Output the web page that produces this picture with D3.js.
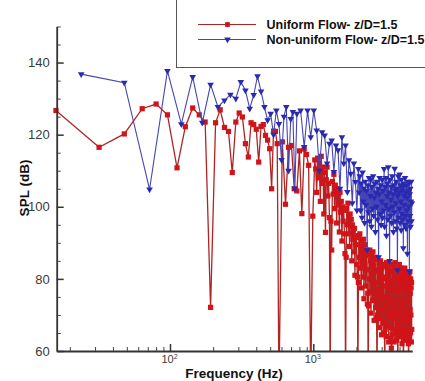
<!DOCTYPE html>
<html>
<head>
<meta charset="utf-8">
<script src="https://cdn.jsdelivr.net/npm/d3@7"></script>
<style>
  html, body { margin: 0; padding: 0; background: #fff; }
  #chart { width: 425px; height: 381px; overflow: hidden; }
  text { font-family: "Liberation Sans", Arial, sans-serif; }
</style>
</head>
<body>
<div id="chart"></div>
<script>
// Uniform flow, z/D=1.5 (red squares)
const redFreq = [16, 32, 48, 64, 80, 96, 112, 128, 144, 160, 176, 192, 208, 224, 240, 256, 272, 288,
    304, 320, 336, 352, 368, 384, 400, 416, 432, 448, 464, 480, 496, 512, 528, 544, 560, 576,
    608, 640, 672, 704, 736, 768, 800, 832, 864, 896, 928, 960, 992, 1024,
    1040, 1056, 1072, 1088, 1104, 1120, 1136, 1152, 1168, 1184, 1200, 1216, 1232, 1248, 1264, 1280,
    1296, 1312, 1328, 1344, 1360, 1376, 1392, 1408, 1424, 1440, 1456, 1472, 1488, 1504, 1520, 1536,
    1552, 1568, 1584, 1600, 1616, 1632, 1648, 1664, 1680, 1696, 1712, 1728, 1744, 1760, 1776, 1792,
    1808, 1824, 1840, 1856, 1872, 1888, 1904, 1920, 1936, 1952, 1968, 1984, 2000, 2016, 2032, 2048,
    2064, 2080, 2096, 2112, 2128, 2144, 2160, 2176, 2192, 2208, 2224, 2240, 2256, 2272, 2288, 2304,
    2320, 2336, 2352, 2368, 2384, 2400, 2416, 2432, 2448, 2464, 2480, 2496, 2512, 2528, 2544, 2560,
    2576, 2592, 2608, 2624, 2640, 2656, 2672, 2688, 2704, 2720, 2736, 2752, 2768, 2784, 2800, 2816,
    2832, 2848, 2864, 2880, 2896, 2912, 2928, 2944, 2960, 2976, 2992, 3008, 3024, 3040, 3056, 3072,
    3088, 3104, 3120, 3136, 3152, 3168, 3184, 3200, 3216, 3232, 3248, 3264, 3280, 3296, 3312, 3328,
    3344, 3360, 3376, 3392, 3408, 3424, 3440, 3456, 3472, 3488, 3504, 3520, 3536, 3552, 3568, 3584,
    3600, 3616, 3632, 3648, 3664, 3680, 3696, 3712, 3728, 3744, 3760, 3776, 3792, 3808, 3824, 3840,
    3856, 3872, 3888, 3904, 3920, 3936, 3952, 3968, 3984, 4000, 4016, 4032, 4048, 4064, 4080, 4096,
    4112, 4128, 4144, 4160, 4176, 4192, 4208, 4224, 4240, 4256, 4272, 4288, 4304, 4320, 4336, 4352,
    4368, 4384, 4400, 4416, 4432, 4448, 4464, 4480, 4496, 4512, 4528, 4544, 4560, 4576, 4592, 4608,
    4624, 4640, 4656, 4672, 4688, 4704, 4720, 4736, 4752, 4768, 4784, 4800, 4816, 4832, 4848, 4864];
const redSpl = [126.7, 116.5, 120.2, 127.2, 128.5, 125.5, 110.8, 122.2, 127.4, 125.5,
    123.5, 72.1, 123.3, 126.9, 122.0, 120.9, 109.5, 123.5, 126.0, 124.9,
    117.5, 113.8, 123.3, 122.8, 121.5, 112.4, 122.3, 122.8, 119.8, 118.5,
    116.1, 105.0, 121.0, 120.9, 117.5, 50,
    118.0, 100.7, 116.5, 117.0, 105.0, 104.4, 115.5, 98.1, 116.0, 114.5, 111.5, 50, 97.4, 113.0,
    110.5, 104.0, 113.5, 108.0, 112.0, 101.5, 114.0, 106.5, 111.0, 98.0, 109.5, 92.9, 107.5, 111.0,
    103.0, 106.5, 97.0, 50,
    96.0, 88.0, 107.0, 103.5, 109.0, 99.5, 106.0, 104.5, 95.5, 105.0, 100.5, 103.5, 93.0, 104.0,
    98.5, 101.5, 90.5, 100.0, 96.0, 99.0, 92.5, 87.0, 50,
    86.0, 99.5, 95.0, 101.0, 92.5, 97.5, 89.0, 98.0, 94.5, 96.5, 85.0, 95.0, 91.0, 93.5,
    87.5, 94.0, 81.0, 92.0, 89.5, 91.5, 84.0, 80.5, 50,
    79.0, 91.5, 86.0, 92.5, 83.0, 89.0, 77.5, 90.5, 85.0, 88.0, 80.5, 91.0, 74.5, 87.5,
    84.0, 89.5, 78.0, 86.5, 82.5, 88.0, 73.0, 76.0, 50,
    72.5, 87.0, 80.0, 88.0, 76.5, 85.0, 70.5, 86.5, 81.5, 84.0, 74.0, 87.5, 78.5, 83.5,
    68.5, 85.5, 79.0, 82.0, 72.0, 86.0, 75.5, 69.0, 50,
    70.0, 85.5, 77.0, 82.5, 66.5, 84.5, 73.5, 81.0, 69.0, 85.0, 76.0, 79.5, 64.5, 83.0,
    71.5, 80.5, 67.5, 84.0, 74.5, 78.0, 65.0, 68.0, 50,
    66.0, 83.5, 72.5, 80.0, 64.0, 84.5, 75.0, 78.5, 67.0, 83.0, 70.5, 81.5, 62.5, 79.0,
    73.5, 84.0, 66.5, 77.0, 69.5, 82.5, 63.5, 60.8, 50,
    64.5, 82.0, 71.0, 84.0, 66.0, 79.5, 74.0, 83.0, 62.5, 77.5, 69.0, 84.5, 72.5, 80.0,
    65.0, 82.5, 70.0, 76.5, 63.0, 81.0, 67.5, 64.0, 50,
    66.5, 83.5, 70.5, 80.0, 65.3, 84.0, 74.5, 78.0, 64.0, 82.5, 71.0, 79.5, 66.0, 83.0,
    73.0, 77.0, 62.0, 81.5, 68.5, 80.5, 65.5, 63.0, 50,
    65.0, 82.5, 69.5, 79.0, 64.0, 83.0, 72.0, 77.5, 66.5, 81.5, 70.0, 78.5, 63.0, 82.0,
    74.0, 76.5, 65.5, 80.5, 68.0, 79.0, 64.0, 62.0, 50,
    64.5, 81.0, 68.5, 78.0, 63.5, 82.0, 71.5, 76.0, 65.0, 80.0, 70.0, 77.5, 62.5, 79.0, 66.0];

// Non-uniform flow, z/D=1.5 (blue triangles)
const blueFreq = [24, 48, 72, 96, 120, 144, 168, 192, 216, 240, 264, 288, 312, 336, 360, 384,
    408, 432, 456, 480, 504, 528, 552, 576, 600, 624, 648, 672, 696, 720, 744, 768,
    816, 864, 912, 960, 1008, 1056, 1104, 1152, 1200, 1248, 1296, 1344, 1392, 1440, 1488, 1536,
    1584, 1632, 1680, 1728, 1776, 1824, 1872, 1920, 1968, 2016, 2064,
    2088, 2112, 2136, 2160, 2184, 2208, 2232, 2256, 2280, 2304,
    2328, 2352, 2376, 2400, 2424, 2448, 2472, 2496, 2520, 2544,
    2568, 2592, 2616, 2640, 2664, 2688, 2712, 2736, 2760, 2784,
    2808, 2832, 2856, 2880, 2904, 2928, 2952, 2976, 3000, 3024,
    3048, 3072, 3096, 3120, 3144, 3168, 3192, 3216, 3240, 3264,
    3288, 3312, 3336, 3360, 3384, 3408, 3432, 3456, 3480, 3504,
    3528, 3552, 3576, 3600, 3624, 3648, 3672, 3696, 3720, 3744,
    3768, 3792, 3816, 3840, 3864, 3888, 3912, 3936, 3960, 3984,
    4008, 4032, 4056, 4080, 4104, 4128, 4152, 4176, 4200, 4224,
    4248, 4272, 4296, 4320, 4344, 4368, 4392, 4416, 4440, 4464,
    4488, 4512, 4536, 4560, 4584, 4608, 4632, 4656, 4680, 4704,
    4728, 4752, 4776, 4800, 4824, 4848, 4872];
const blueSpl = [136.8, 134.4, 104.8, 137.7, 122.9, 136.0, 123.3, 133.9, 127.7, 129.5,
    131.1, 130.0, 134.6, 132.3, 127.2, 131.0, 136.2, 132.0, 127.7, 124.0,
    125.8, 120.0, 126.7, 123.0, 113.0, 125.0, 127.7, 110.0, 124.4, 126.3,
    105.0, 125.8,
    126.7, 116.6, 126.7, 119.3, 126.7, 121.2, 110.0, 120.7, 119.8, 112.0,
    117.5, 118.4, 109.7, 117.0, 115.7, 105.0, 119.3, 112.0, 117.0, 104.1,
    112.9, 109.2, 101.0, 112.0, 106.9, 99.0, 110.5,
    104.0, 108.5, 99.0, 106.5, 97.0, 109.5, 101.5, 105.0, 95.5, 107.0,
    100.5, 104.5, 88.0, 106.0, 98.5, 108.0, 96.0, 103.0, 107.5, 94.5,
    105.5, 99.5, 108.5, 97.5, 102.5, 106.5, 93.0, 104.0, 100.0, 107.0,
    96.5, 105.0, 86.0, 103.5, 108.0, 98.0, 106.0, 95.0, 101.5, 107.5,
    97.0, 104.5, 99.0, 110.5, 94.5, 105.5, 100.5, 108.0, 92.0, 103.0,
    106.5, 96.5, 111.0, 99.5, 104.0, 85.0, 107.5, 97.5, 102.0, 105.5,
    95.5, 108.5, 100.0, 103.5, 93.0, 106.0, 98.5, 110.6, 96.0, 104.5,
    101.0, 107.0, 94.0, 105.0, 82.4, 103.0, 108.5, 97.0, 104.0, 99.5,
    109.0, 95.5, 106.0, 101.5, 93.5, 107.5, 98.0, 104.5, 96.5, 105.5,
    88.5, 106.5, 100.5, 103.0, 95.0, 108.0, 97.5, 104.0, 94.0, 106.0,
    99.0, 102.5, 87.0, 107.0, 96.0, 104.5, 100.0, 106.5, 82.0, 103.5,
    97.5, 105.0, 94.5, 101.5, 107.0, 96.0, 101.0];

const yMajorTicks = [60, 80, 100, 120, 140];
const yMinorTicks = [65, 70, 75, 85, 90, 95, 105, 110, 115, 125, 130, 135, 145, 150];
const xMajorTicks = [100, 1000];
const xMinorTicks = [20, 30, 40, 50, 60, 70, 80, 90, 200, 300, 400, 500, 600, 700, 800, 900,
    2000, 3000, 4000];
const legendLabels = ["Uniform Flow- z/D=1.5", "Non-uniform Flow- z/D=1.5"];

const width = 425, height = 381;
const redLine = "#b02424", redFill = "#d01419";
const blueLine = "#4545b5", blueFill = "#2a2ab0";
const sq = 5.2;

const svg = d3.select("#chart").append("svg")
    .attr("width", width)
    .attr("height", height);

const x = d3.scaleLog().domain([16.2, 4900]).range([56.7, 412.2]);
const y = d3.scaleLinear().domain([60, 150]).range([351, 26.5]);

// clip for the lines that drop below 60 dB
svg.append("defs").append("clipPath").attr("id", "plotClip")
    .append("rect").attr("x", 50).attr("y", 0).attr("width", 380).attr("height", y(60));

const red = redFreq.map((f, i) => ({ f: f, v: redSpl[i] }));
const blue = blueFreq.map((f, i) => ({ f: f, v: blueSpl[i] }));

const line = d3.line().x(d => x(d.f)).y(d => y(d.v));

// Series
const plot = svg.append("g");
plot.append("path").datum(red)
    .attr("clip-path", "url(#plotClip)")
    .attr("fill", "none").attr("stroke", redLine).attr("stroke-width", 1.3)
    .attr("d", line);
plot.selectAll(".sq").data(red.filter(d => d.v >= 60)).enter()
    .append("rect").attr("class", "sq")
    .attr("x", d => x(d.f) - sq / 2).attr("y", d => y(d.v) - sq / 2)
    .attr("width", sq).attr("height", sq)
    .attr("fill", redFill);

plot.append("path").datum(blue)
    .attr("clip-path", "url(#plotClip)")
    .attr("fill", "none").attr("stroke", blueLine).attr("stroke-width", 1.1)
    .attr("d", line);
const tri = d3.symbol().type(d3.symbolTriangle).size(19);
plot.selectAll(".tri").data(blue.filter(d => d.v >= 60)).enter()
    .append("path").attr("class", "tri")
    .attr("d", tri)
    .attr("transform", d => `translate(${x(d.f)},${y(d.v)}) rotate(180)`)
    .attr("fill", blueFill);

// Y axis
const yAxis = svg.append("g").attr("transform", `translate(${x.range()[0]},0)`)
    .call(d3.axisLeft(y).tickValues(yMajorTicks).tickSize(-7).tickSizeOuter(0).tickPadding(7));
yAxis.select(".domain").attr("stroke", "#333").attr("stroke-width", 1.8);
yAxis.selectAll(".tick line").attr("stroke", "#333").attr("stroke-width", 1.5);
yAxis.selectAll(".tick text")
    .style("font-family", "'Liberation Sans', Arial, sans-serif")
    .style("font-size", "13px").attr("fill", "#3a3a3a");

svg.append("g").attr("transform", `translate(${x.range()[0]},0)`)
    .call(d3.axisLeft(y).tickValues(yMinorTicks).tickSize(-4).tickSizeOuter(0).tickFormat(""))
    .call(g => g.select(".domain").remove())
    .selectAll(".tick line").attr("stroke", "#444");

// X axis
const xAxis = svg.append("g").attr("transform", `translate(0,${y(60)})`)
    .call(d3.axisBottom(x).tickValues(xMajorTicks).tickSize(-7).tickSizeOuter(0).tickFormat(""));
xAxis.select(".domain").attr("stroke", "#333").attr("stroke-width", 1.8);
xAxis.selectAll(".tick line").attr("stroke", "#333").attr("stroke-width", 1.5);
xAxis.selectAll(".tick").append("text")
    .attr("y", 12).attr("x", -1)
    .attr("text-anchor", "middle")
    .attr("fill", "#3a3a3a")
    .style("font-size", "11px")
    .each(function (d) {
        const t = d3.select(this);
        t.append("tspan").text("10");
        t.append("tspan").attr("dy", -4).style("font-size", "7px")
            .text(Math.round(Math.log10(d)));
    });

svg.append("g").attr("transform", `translate(0,${y(60)})`)
    .call(d3.axisBottom(x).tickValues(xMinorTicks).tickSize(-4).tickSizeOuter(0).tickFormat(""))
    .call(g => g.select(".domain").remove())
    .selectAll(".tick line").attr("stroke", "#444");

// Axis titles
svg.append("text")
    .attr("transform", "translate(29,188) rotate(-90)")
    .attr("text-anchor", "middle")
    .style("font-size", "13.5px").style("font-weight", "bold")
    .attr("fill", "#111")
    .text("SPL (dB)");

svg.append("text")
    .attr("x", 234).attr("y", 378)
    .attr("text-anchor", "middle")
    .style("font-size", "13.5px").style("font-weight", "bold")
    .attr("fill", "#111")
    .text("Frequency (Hz)");

// Legend
const legend = svg.append("g");
legend.append("rect")
    .attr("x", 176.5).attr("y", -2).attr("width", 260).attr("height", 69.5)
    .attr("fill", "#fff").attr("stroke", "#555").attr("stroke-width", 1);

const legendRows = [
    { label: legendLabels[0], stroke: redLine, fill: redFill, shape: "square", y: 24.5 },
    { label: legendLabels[1], stroke: blueLine, fill: blueFill, shape: "tri", y: 39.5 }
];
legendRows.forEach(r => {
    legend.append("line")
        .attr("x1", 198).attr("x2", 256).attr("y1", r.y).attr("y2", r.y)
        .attr("stroke", r.stroke).attr("stroke-width", 1.1);
    if (r.shape === "square") {
        legend.append("rect").attr("x", 227.5 - 2.4).attr("y", r.y - 2.4)
            .attr("width", 4.8).attr("height", 4.8).attr("fill", r.fill);
    } else {
        legend.append("path").attr("d", tri)
            .attr("transform", `translate(227.5,${r.y}) rotate(180)`)
            .attr("fill", r.fill);
    }
    legend.append("text")
        .attr("x", 266.5).attr("y", r.y + 4.5)
        .style("font-size", "12.5px").style("font-weight", "bold")
        .attr("fill", "#111")
        .text(r.label);
});
</script>
</body>
</html>
